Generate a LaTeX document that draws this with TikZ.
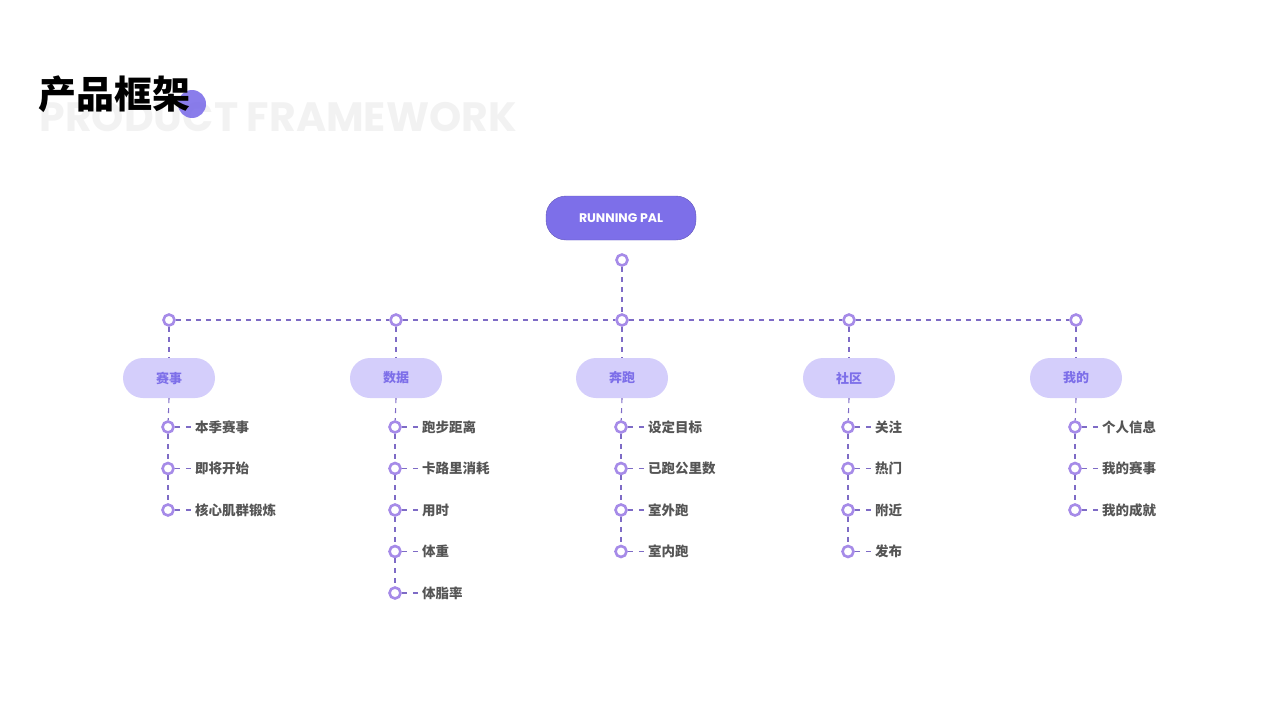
\documentclass[tikz,border=0pt]{standalone}
\usepackage{fontspec}
\setmainfont{Noto Sans CJK SC}
\newfontfamily\latinfont{Poppins}
\usetikzlibrary{positioning}
\definecolor{mainpurple}{HTML}{7D6FE9}
\definecolor{lightpurple}{HTML}{D4CEFB}
\definecolor{ringpurple}{HTML}{A68BE8}
\definecolor{linepurple}{HTML}{7E6BC6}
\definecolor{textgray}{HTML}{555555}
\tikzset{
  dot/.style={circle, draw=ringpurple, fill=white, line width=2.6pt, minimum size=11pt, inner sep=0pt},
  link/.style={linepurple, dashed, line width=1.1pt, dash pattern=on 5pt off 5pt},
  cat/.style={rounded corners=20pt, fill=lightpurple, minimum width=92pt, minimum height=40pt, text=mainpurple, font=\fontsize{13}{13}\selectfont\bfseries},
  item/.style={text=textgray, font=\fontsize{13.5}{13.5}\selectfont\bfseries, anchor=west, inner sep=1pt}
}
\begin{document}
\begin{tikzpicture}[x=1pt,y=-1pt]
	\useasboundingbox (0,0) rectangle (1280,720);
	\node[anchor=west, text=black!5, font=\latinfont\fontsize{41}{41}\selectfont\bfseries] at (36,117) {PRODUCT FRAMEWORK};
	\fill[mainpurple, opacity=.9] (192,104) circle (14);
	\node[anchor=west, font=\fontsize{38}{38}\selectfont\bfseries] (title) at (35,94) {产品框架};
	\node[rounded corners=20pt, fill=mainpurple, draw=mainpurple!80!black, minimum width=150pt, minimum height=44pt, text=white, font=\latinfont\fontsize{12.5}{12.5}\selectfont\bfseries] (root) at (621,218) {RUNNING PAL};
	\node[dot] (rootdot) at (622,260) {};
	\draw[link] (rootdot) -- (622,320);
	% categories
	\foreach \n/\x/\t in {a/169/赛事, b/396/数据, c/622/奔跑, d/849/社区, e/1076/我的} {
		\node[dot] (\n top) at (\x,320) {};
		\node[cat] (\n) at (\x,378) {\t};
		\draw[link] (\n top) -- (\n);
	}
	\draw[link] (atop) -- (btop);
	\draw[link] (btop) -- (ctop);
	\draw[link] (ctop) -- (dtop);
	\draw[link] (dtop) -- (etop);
	% items
	\foreach \n/\x/\list in {a/169/{本季赛事,即将开始,核心肌群锻炼}, b/396/{跑步距离,卡路里消耗,用时,体重,体脂率}, c/622/{设定目标,已跑公里数,室外跑,室内跑}, d/849/{关注,热门,附近,发布}, e/1076/{个人信息,我的赛事,我的成就}} {
		\coordinate (\n last) at (\n.south);
		\foreach \t [count=\i] in \list {
			\node[dot] (\n\i) at (\x-1,{427+41.5*(\i-1)}) {};
			\node[item] (\n\i t) at (\x+25,{427+41.5*(\i-1)}) {\t};
			\draw[link, dash pattern=on 5pt off 6pt] (\n\i) -- (\n\i t);
			\draw[link] (\n last) -- (\n\i);
			\coordinate (\n last) at (\n\i.south);
		}
	}
\end{tikzpicture}
\end{document}
